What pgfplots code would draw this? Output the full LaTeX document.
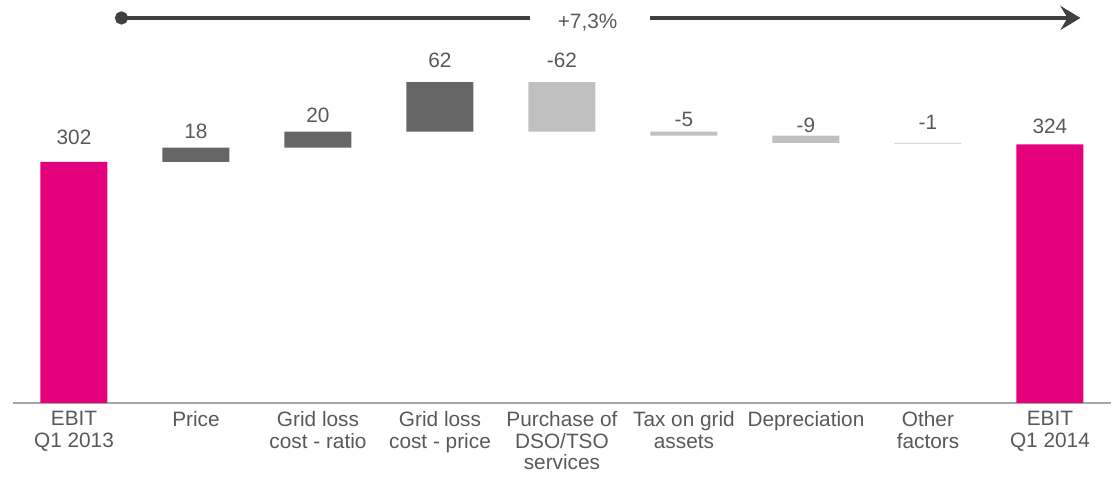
\documentclass[border=0pt]{standalone}
\usepackage{pgfplots}
\usepackage{pgfplotstable}
\pgfplotsset{compat=1.18}
\usetikzlibrary{arrows.meta}
\usepackage{fontspec}
\setmainfont{Liberation Sans}

\definecolor{ebitpink}{HTML}{E5007D}
\definecolor{upgray}{HTML}{666666}
\definecolor{downgray}{HTML}{C0C0C0}
\definecolor{txtgray}{HTML}{595959}
\definecolor{arrowgray}{HTML}{404040}
\definecolor{axgray}{HTML}{A6A6A6}

% waterfall: invisible base, start/end totals, increases, decreases
\pgfplotstableread{
x base ebit up down
0 0   302 0  0
1 302 0   18 0
2 320 0   20 0
3 340 0   62 0
4 340 0   0  62
5 335 0   0  5
6 326 0   0  9
7 325 0   0  1
8 0   324 0  0
}\wf

% value labels (y = label centre)
\pgfplotstableread{
x y lab
0 333 302
1 340 18
2 360 20
3 429 62
4 429 -62
5 355 -5
6 348 -9
7 352 -1
8 347 324
}\labs

\newcommand\chartfont{\fontsize{20.8}{21.6}\selectfont}

\begin{document}
\begin{tikzpicture}
\useasboundingbox (-13pt,-86pt) rectangle (1101pt,403pt);
\begin{axis}[
  ybar stacked,
  bar width=67pt,
  scale only axis,
  width=1098pt, height=403pt,
  xmin=-0.5, xmax=8.5, ymin=0, ymax=505,
  axis x line*=bottom,
  axis y line=none,
  x axis line style={draw=axgray, line width=1.3pt, -},
  major tick length=0pt,
  xtick={0,...,8},
  xticklabels={{EBIT\\Q1 2013},Price,{Grid loss\\cost - ratio},{Grid loss\\cost - price},{Purchase of\\DSO/TSO\\services},{Tax on grid\\assets},Depreciation,{Other\\factors},{EBIT\\Q1 2014}},
  xticklabel style={align=center, text=txtgray, font=\chartfont, yshift=-5pt},
]
\addplot[draw=none, fill=none] table[x=x, y=base] {\wf};
\addplot[draw=none, fill=ebitpink] table[x=x, y=ebit] {\wf};
\addplot[draw=none, fill=upgray] table[x=x, y=up] {\wf};
\addplot[draw=none, fill=downgray] table[x=x, y=down] {\wf};
\end{axis}
\begin{axis}[
  scale only axis,
  width=1098pt, height=403pt,
  xmin=-0.5, xmax=8.5, ymin=0, ymax=505,
  hide axis,
  clip=false,
]
\addplot[draw=none, mark=none, nodes near coords, point meta=explicit symbolic,
  nodes near coords style={anchor=center, text=txtgray, font=\chartfont}]
  table[x=x, y=y, meta=lab] {\labs};
\draw[arrowgray, line width=4.5pt, {Circle[length=13pt]}-] (axis cs:0.336,482.5) -- (axis cs:3.74,482.5);
\draw[arrowgray, line width=4.5pt, -{Stealth[length=20pt,width=24pt,inset=7pt]}] (axis cs:4.72,482.5) -- (axis cs:8.25,482.5);
\node[text=txtgray, font=\chartfont] at (axis cs:4.21,476.5) {+7,3\%};
\end{axis}
\end{tikzpicture}
\end{document}
